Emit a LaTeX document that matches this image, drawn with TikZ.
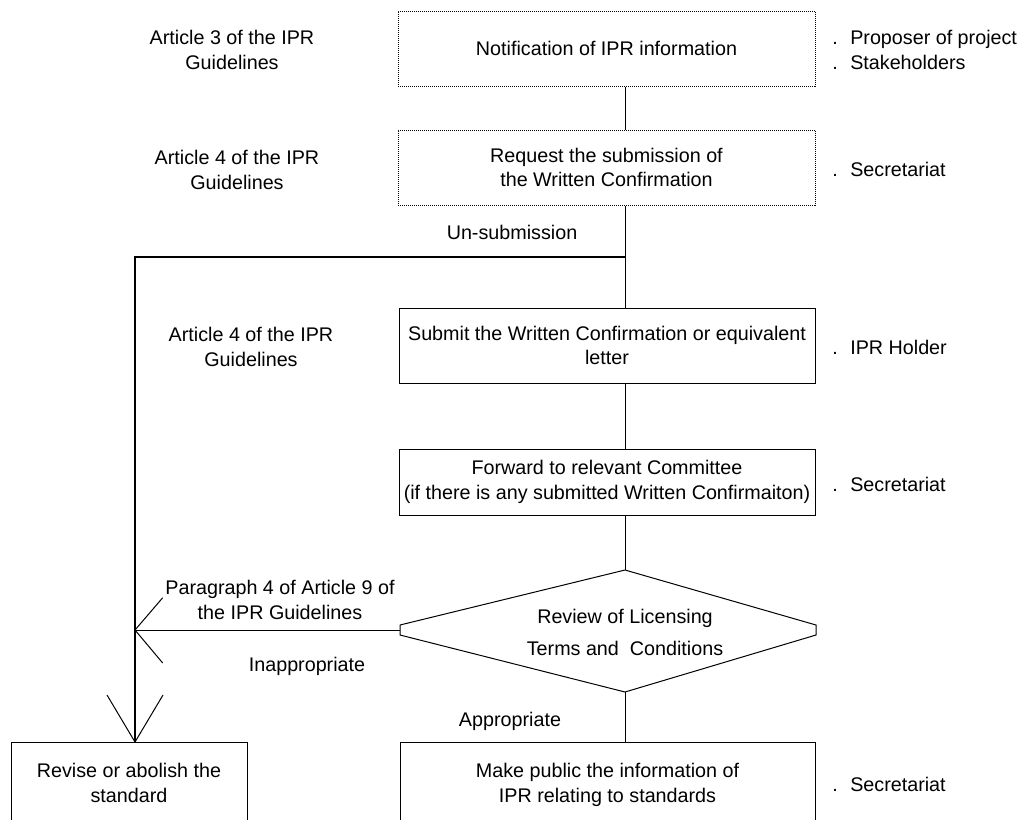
\documentclass[tikz,border=0pt]{standalone}
\usepackage{fontspec}
\setmainfont{Liberation Sans}
\begin{document}
\begin{tikzpicture}[x=0.75pt,y=-0.75pt,
  every node/.style={font=\fontsize{14.8}{18.4}\selectfont, inner sep=0pt, align=center},
  thin line/.style={line width=0.75pt},
  thick line/.style={line width=1.6pt},
  dotbox/.style={draw, line width=0.75pt, dash pattern=on 0.75pt off 0.75pt, minimum width=417*0.75pt},
  solidbox/.style={draw, line width=0.75pt},
  side/.style={anchor=west, align=left},
  lab/.style={align=center}]
\useasboundingbox (0,0) rectangle (1017,819);
\fill[white] (0,0) rectangle (1017,819);
\newcommand{\dt}{\makebox[13.5pt][l]{.}}

% boxes
\node[dotbox, minimum height=75*0.75pt] (b1) at (606.5,48.5) {Notification of IPR information};
\node[dotbox, minimum height=75*0.75pt] (b2) at (606.5,167.5) {Request the submission of\\the Written Confirmation};
\node[solidbox, minimum width=416*0.75pt, minimum height=75*0.75pt] (b3) at (607,345.5) {Submit the Written Confirmation or equivalent\\letter};
\node[solidbox, minimum width=416*0.75pt, minimum height=66*0.75pt] (b4) at (607,482) {Forward to relevant Committee\\(if there is any submitted Written Confirmaiton)};
\node[solidbox, minimum width=236*0.75pt, minimum height=80*0.75pt] (b5) at (129,782) {};
\node (t5) at (129,783) {Revise or abolish the\\standard};
\node[solidbox, minimum width=415*0.75pt, minimum height=80*0.75pt] (b6) at (607.5,782) {};
\node (t6) at (607.5,785) {Make public the information of\\IPR relating to standards};

% diamond
\coordinate (dt) at (625,570);
\coordinate (dru) at (816,625);
\coordinate (drd) at (816,635);
\coordinate (db) at (625,692);
\coordinate (dld) at (400,635);
\coordinate (dlu) at (400,625);
\coordinate (dl) at (400,630);
\draw[thin line] (dt) -- (dru) -- (drd) -- (db) -- (dld) -- (dlu) -- cycle;
\node[font=\fontsize{14.8}{24}\selectfont] (dtext) at (625,632) {Review of Licensing\\Terms and\ \ Conditions};

% column coordinate
\coordinate (cx) at (625,0);
\coordinate (jt) at (625,257);
\coordinate (ct) at (135,257);
\coordinate (jl) at (135,630);
\coordinate (tip) at (135,742);

% connectors
\draw[thin line] (b1.south -| cx) -- (b2.north -| cx);
\draw[thin line] (b2.south -| cx) -- (b3.north -| cx);
\draw[thin line] (b3.south -| cx) -- (b4.north -| cx);
\draw[thin line] (b4.south -| cx) -- (dt);
\draw[thin line] (db) -- (b6.north -| cx);
\draw[thick line] (jt) -- (ct) -- (tip);
\draw[thin line] (dl) -- (jl);
\draw[thin line] (162.7,597.7) -- (jl) -- (162.7,663);
\draw[thin line] (107,695) -- (tip) -- (163,695);

% left labels
\node[lab] (l1) at (232,50) {Article 3 of the IPR\\Guidelines};
\node[lab] (l2) at (237,170) {Article 4 of the IPR\\Guidelines};
\node[lab] (l3) at (251,347) {Article 4 of the IPR\\Guidelines};
\node[lab] (l4) at (280,600) {Paragraph 4 of Article 9 of\\the IPR Guidelines};
\node (unsub) at (512,232) {Un-submission};
\node (inapp) at (307,666) {Inappropriate};
\node (app) at (510,721) {Appropriate};

% right labels
\node[side] (r1) at (832,50) {\dt Proposer of project\\\dt Stakeholders};
\node[side] (r2) at (832,169) {\dt Secretariat};
\node[side] (r3) at (832,347) {\dt IPR Holder};
\node[side] (r4) at (832,484) {\dt Secretariat};
\node[side] (r5) at (832,784) {\dt Secretariat};
\end{tikzpicture}
\end{document}
